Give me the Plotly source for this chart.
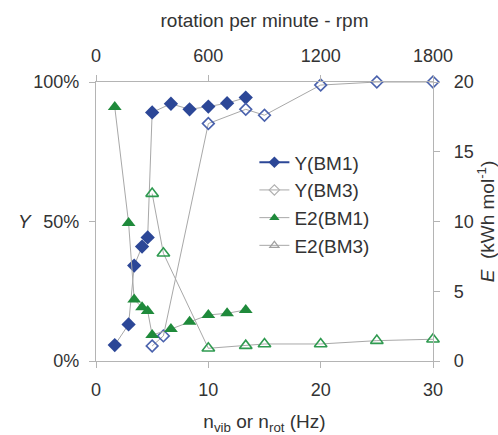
import plotly.graph_objects as go

# Frequency (Hz)
x_bm1 = [1.67, 2.9, 3.4, 4.1, 4.6, 5.0, 6.67, 8.33, 10.0, 11.67, 13.33]
x_bm3 = [5.0, 6.0, 10.0, 13.33, 15.0, 20.0, 25.0, 30.0]

# Yield (fraction)
y_bm1 = [0.057, 0.131, 0.342, 0.410, 0.443, 0.891, 0.922, 0.902, 0.912, 0.924, 0.944]
y_bm3 = [0.054, 0.090, 0.851, 0.902, 0.881, 0.989, 1.0, 1.0]

# Energy (kWh mol-1)
e_bm1 = [18.2, 9.9, 4.4, 3.85, 3.58, 1.86, 2.29, 2.82, 3.3, 3.42, 3.66]
e_bm3 = [12.0, 7.72, 0.91, 1.1, 1.22, 1.22, 1.46, 1.56]

x_ticks = [0, 10, 20, 30]
rpm_ticks = [0, 600, 1200, 1800]
y_ticks = [0, 0.5, 1.0]
y_tick_labels = ["0%", "50%", "100%"]
e_ticks = [0, 5, 10, 15, 20]

BLUE = "#2c4797"
BLUE_OPEN = "#4a62ad"
GREEN = "#1f8a3b"
GREEN_OPEN = "#2f9a50"
GRAY_LINE = "#a8a8a8"
AXIS = "#b4b4b4"
TXT = "#333333"
FONT = "Liberation Sans, Arial, sans-serif"

L, R, T, B = 96, 65, 82, 74
PW = 498 - L - R

fig = go.Figure()

# Data traces (gray connecting lines)
fig.add_trace(go.Scatter(x=x_bm1, y=y_bm1, mode="lines+markers", showlegend=False,
                         line=dict(color=GRAY_LINE, width=1),
                         marker=dict(symbol="diamond", size=11, color=BLUE),
                         cliponaxis=False))
fig.add_trace(go.Scatter(x=x_bm3, y=y_bm3, mode="lines+markers", showlegend=False,
                         line=dict(color=GRAY_LINE, width=1),
                         marker=dict(symbol="diamond-open", size=9, color=BLUE_OPEN,
                                     line=dict(width=1.6, color=BLUE_OPEN)),
                         cliponaxis=False))
fig.add_trace(go.Scatter(x=x_bm1, y=e_bm1, yaxis="y2", mode="lines+markers", showlegend=False,
                         line=dict(color=GRAY_LINE, width=1),
                         marker=dict(symbol="triangle-up", size=12, color=GREEN),
                         cliponaxis=False))
fig.add_trace(go.Scatter(x=x_bm3, y=e_bm3, yaxis="y2", mode="lines+markers", showlegend=False,
                         line=dict(color=GRAY_LINE, width=1),
                         marker=dict(symbol="triangle-up-open", size=11, color=GREEN_OPEN,
                                     line=dict(width=1.6, color=GREEN_OPEN)),
                         cliponaxis=False))

# Legend-only traces
fig.add_trace(go.Scatter(x=[None], y=[None], mode="lines+markers", name="Y(BM1)", legendgroup="a",
                         line=dict(color=BLUE, width=2),
                         marker=dict(symbol="diamond", size=9, color=BLUE)))
fig.add_trace(go.Scatter(x=[None], y=[None], mode="lines+markers", name="Y(BM3)", legendgroup="b",
                         line=dict(color=GRAY_LINE, width=1),
                         marker=dict(symbol="diamond-open", size=8, color="#b0b0b0",
                                     line=dict(width=1.2, color="#b0b0b0"))))
fig.add_trace(go.Scatter(x=[None], y=[None], mode="lines+markers", name="E2(BM1)", legendgroup="c",
                         line=dict(color=GRAY_LINE, width=1),
                         marker=dict(symbol="triangle-up", size=9, color=GREEN)))
fig.add_trace(go.Scatter(x=[None], y=[None], mode="lines+markers", name="E2(BM3)", legendgroup="d",
                         line=dict(color=GRAY_LINE, width=1),
                         marker=dict(symbol="triangle-up-open", size=8, color="#a0a0a0",
                                     line=dict(width=1.2, color="#a0a0a0"))))

# Invisible trace to anchor top axis
fig.add_trace(go.Scatter(x=rpm_ticks, y=[None] * len(rpm_ticks), xaxis="x2", mode="markers",
                         showlegend=False, hoverinfo="skip"))

axis_common = dict(showline=True, linecolor=AXIS, linewidth=1.3, ticks="outside",
                   tickcolor=AXIS, ticklen=6, tickwidth=1, showgrid=False, zeroline=False,
                   automargin=False,
                   tickfont=dict(size=18, color=TXT, family=FONT))

fig.update_layout(
    width=498, height=435,
    margin=dict(l=L, r=R, t=T, b=B, autoexpand=False),
    paper_bgcolor="white", plot_bgcolor="white",
    font=dict(family=FONT, color=TXT, size=18),
    xaxis=dict(range=[0, 30], tickvals=x_ticks, ticklabelstandoff=6,
               title=dict(text="n<sub>vib</sub> or n<sub>rot</sub> (Hz)", font=dict(size=19), standoff=21),
               **axis_common),
    xaxis2=dict(range=[0, 1800], tickvals=rpm_ticks, overlaying="x", side="top", anchor="y",
                ticklabelstandoff=6,
                title=dict(text="rotation per minute - rpm", font=dict(size=19), standoff=13),
                **axis_common),
    yaxis=dict(range=[0, 1.0], tickvals=y_ticks, ticktext=y_tick_labels, ticklabelstandoff=6,
               **axis_common),
    yaxis2=dict(range=[0, 20], tickvals=e_ticks, overlaying="y", side="right", anchor="x",
                ticklabelstandoff=10,
                title=dict(text="<i>E</i>  (kWh mol<sup>-1</sup>)", font=dict(size=19), standoff=6),
                **axis_common),
    legend=dict(x=0.47, y=0.78, xanchor="left", yanchor="top", bgcolor="rgba(0,0,0,0)",
                font=dict(size=19, color=TXT, family=FONT), traceorder="grouped",
                tracegroupgap=0),
    annotations=[dict(text="<i>Y</i>", x=(25 - L) / PW, y=0.5, xref="paper", yref="y",
                      xanchor="center", showarrow=False,
                      font=dict(size=19, color=TXT))],
)

fig.write_html("out.html", config={"displayModeBar": False},
               post_script="document.body.style.margin='0';")
